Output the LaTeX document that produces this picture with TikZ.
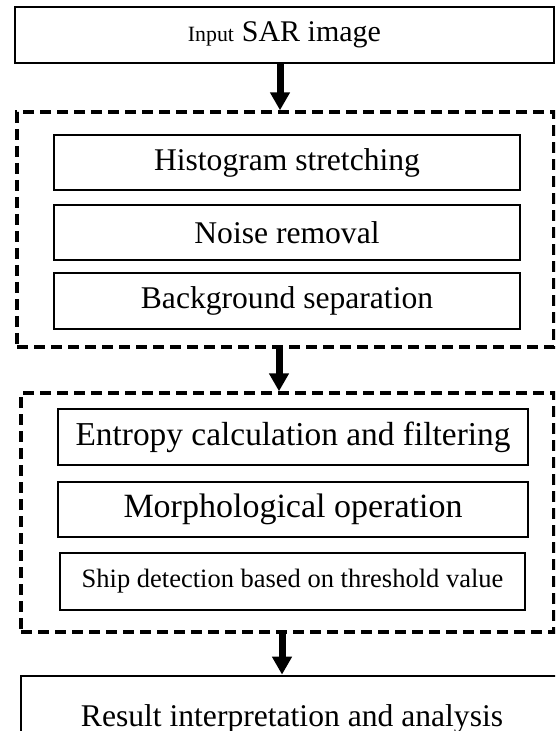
\documentclass[tikz,border=0pt]{standalone}
\usepackage{fontspec}
\setmainfont{Liberation Serif}
\usetikzlibrary{arrows.meta}
\tikzset{
  stage/.style={draw, line width=1pt, inner sep=0pt, font=\fontsize{15.8}{19}\selectfont},
  group/.style={draw, line width=1.7pt, dash pattern=on 5.5pt off 3pt, inner sep=0pt},
  flow/.style={line width=3.5pt, -{Triangle[width=9.5pt,length=9pt]}}
}

\begin{document}
\begin{tikzpicture}[x=0.5pt, y=-0.5pt]
                \clip (0,0) rectangle (555,731);
                \node[stage, line width=1.2pt, minimum width=269.5pt, minimum height=28pt] (input) at (284.5,35)
                    {{\fontsize{10.9}{13}\selectfont Input} {\fontsize{15}{18}\selectfont SAR image}};
                \node[group, minimum width=268.5pt, minimum height=117.5pt] (prep) at (285.5,229.5) {};
                \node[stage, line width=1.3pt, minimum width=233pt, minimum height=27.5pt] (hist) at (287,162.5) {Histogram stretching};
                \node[stage, minimum width=233pt, minimum height=27.5pt] (noise) at (287,232.5) {Noise removal};
                \node[stage, minimum width=233pt, minimum height=28pt] (backgr) at (287,301) {Background separation};
                \node[group, minimum width=266.5pt, minimum height=119.5pt] (detect) at (287.5,512.5) {};
                \node[stage, minimum width=235pt, minimum height=28pt, font=\fontsize{16.7}{20}\selectfont] (entropy) at (293,437)
                    {Entropy calculation and filtering};
                \node[stage, minimum width=235pt, minimum height=27.5pt, font=\fontsize{17}{20}\selectfont] (morph) at (293,509.5)
                    {Morphological operation};
                \node[stage, minimum width=232.5pt, minimum height=28.5pt, font=\fontsize{13.25}{16}\selectfont] (ship) at (292.5,581.5)
                    {Ship detection based on threshold value};
                \node[stage, line width=1.4pt, minimum width=271pt, minimum height=43pt] (result) at (292,719) {Result interpretation and analysis};
                \draw[flow] ([xshift=-2.25pt]input.south) -- ([xshift=-2.75pt]prep.north);
                \draw[flow] ([xshift=-3.25pt]prep.south) -- ([xshift=-4.25pt]detect.north);
                \draw[flow] ([xshift=-2.75pt]detect.south) -- ([xshift=-5pt]result.north);
\end{tikzpicture}
\end{document}
